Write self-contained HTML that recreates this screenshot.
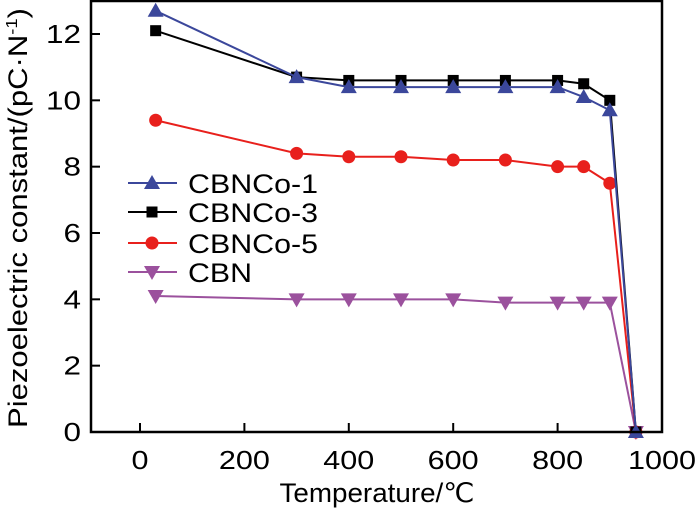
<!DOCTYPE html>
<html><head><meta charset="utf-8"><style>
body{margin:0;background:#fff;}
svg text{font-family:"Liberation Sans",Arial,sans-serif;fill:#000;}
</style></head><body>
<svg id="chart" width="700" height="510" xmlns="http://www.w3.org/2000/svg"></svg>
<script>
const temps=[30,300,400,500,600,700,800,850,900,950];
const cbnco1=[12.7,10.7,10.4,10.4,10.4,10.4,10.4,10.1,9.7,0];
const cbnco3=[12.1,10.7,10.6,10.6,10.6,10.6,10.6,10.5,10.0,0];
const cbnco5=[9.4,8.4,8.3,8.3,8.2,8.2,8.0,8.0,7.5,0];
const cbn=[4.1,4.0,4.0,4.0,4.0,3.9,3.9,3.9,3.9,0];
const xTicks=[0,200,400,600,800,1000];
const yTicks=[0,2,4,6,8,10,12];
const seriesNames=["CBNCo-1","CBNCo-3","CBNCo-5","CBN"];

const NS="http://www.w3.org/2000/svg";
const svg=document.getElementById('chart');
const L=91,R=662,T=1,B=432;
const x=v=>140+v*(R-140)/1000;
const y=v=>B-v*(B-34)/12;
function el(t,a,p){const e=document.createElementNS(NS,t);for(const k in a)e.setAttribute(k,a[k]);(p||svg).appendChild(e);return e;}
const series=[
 {d:cbnco1,c:"#3b479b",m:"up",n:"series-cbnco-1"},
 {d:cbnco3,c:"#000000",m:"sq",n:"series-cbnco-3"},
 {d:cbnco5,c:"#e8201c",m:"ci",n:"series-cbnco-5"},
 {d:cbn,c:"#9b519d",m:"dn",n:"series-cbn"}];
function marker(g,m,cx,cy,c){
 let e;
 if(m==="up")e=el('polygon',{points:`${cx},${cy-8} ${cx-8},${cy+6} ${cx+8},${cy+6}`,fill:c},g);
 else if(m==="dn")e=el('polygon',{points:`${cx},${cy+8} ${cx-8},${cy-6} ${cx+8},${cy-6}`,fill:c},g);
 else if(m==="sq")e=el('rect',{x:cx-5.5,y:cy-5.5,width:11,height:11,fill:c},g);
 else e=el('circle',{cx:cx,cy:cy,r:6.5,fill:c},g);
 
 
}
[3,2,1,0].forEach(i=>{
 const s=series[i];
 const g=el('g',{});
 
 
 el('polyline',{points:s.d.map((v,j)=>x(temps[j])+','+y(v)).join(' '),fill:'none',stroke:s.c,'stroke-width':2},g);
 s.d.forEach((v,j)=>marker(g,s.m,x(temps[j]),y(v),s.c));
});
const ax=el('rect',{x:L,y:T,width:R-L,height:B-T,fill:'none',stroke:'#000','stroke-width':2.5});

xTicks.forEach(v=>{
 if(v<1000)el('line',{x1:x(v),y1:B,x2:x(v),y2:B-9,stroke:'#000','stroke-width':2});
 const s=String(v);
 const t=el('text',{x:x(v),y:B+37,'font-size':26,'text-anchor':'middle',textLength:s.length*17,lengthAdjust:'spacingAndGlyphs'});t.textContent=s;
 
});
yTicks.forEach(v=>{
 el('line',{x1:L,y1:y(v),x2:L+9,y2:y(v),stroke:'#000','stroke-width':2});
 const s=String(v);
 const t=el('text',{x:L-10,y:y(v)+9,'font-size':26,'text-anchor':'end',textLength:s.length*17.5,lengthAdjust:'spacingAndGlyphs'});t.textContent=s;
 
});
const xt=el('text',{x:377,y:502,'font-size':27,'text-anchor':'middle',textLength:195,lengthAdjust:'spacingAndGlyphs'});xt.textContent='Temperature/℃';

const yt=el('text',{x:0,y:0,'font-size':27,'text-anchor':'middle',transform:'translate(27,218) rotate(-90)',textLength:420,lengthAdjust:'spacingAndGlyphs'});
yt.innerHTML='Piezoelectric constant/(pC·N<tspan dy="-10" font-size="16">-1</tspan><tspan dy="10">)</tspan>';

const rows=[183,212,243,272];
const legW=[130,130,130,64];
series.forEach((s,i)=>{
 const g=el('g',{});
 
 
 el('line',{x1:128,y1:rows[i],x2:177,y2:rows[i],stroke:s.c,'stroke-width':2},g);
 marker(g,s.m,152,rows[i],s.c);
 const t=el('text',{x:188,y:rows[i]+10,'font-size':27,textLength:legW[i],lengthAdjust:'spacingAndGlyphs'},g);t.textContent=seriesNames[i];
});
</script>
</body></html>
